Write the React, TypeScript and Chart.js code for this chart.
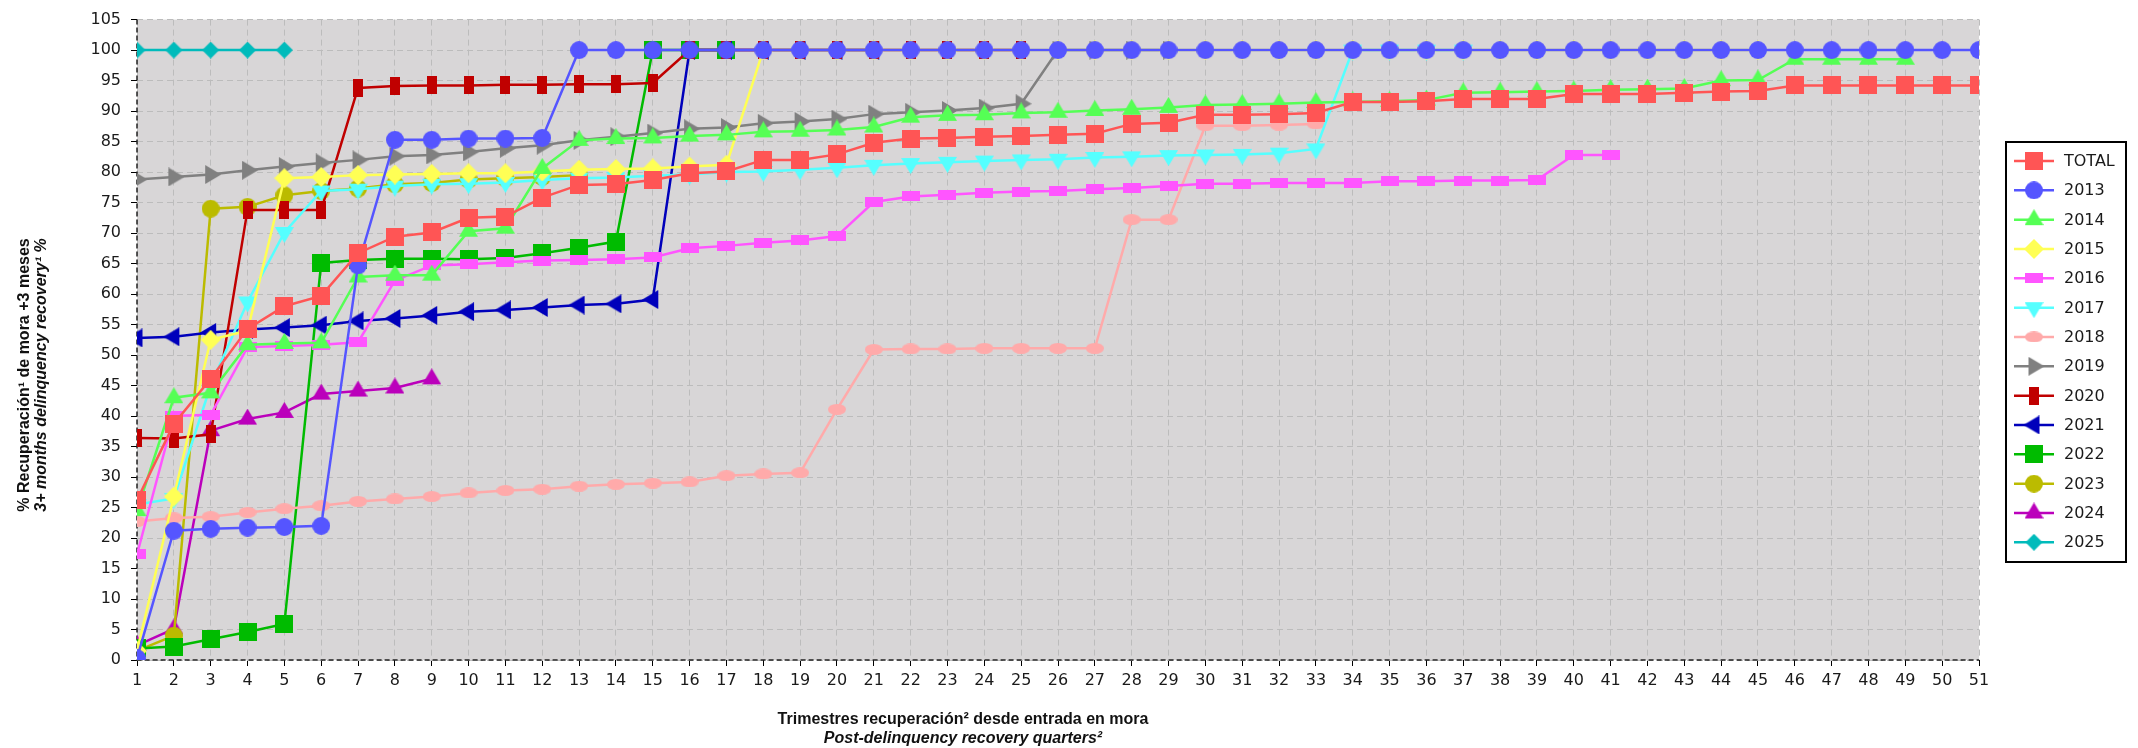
import React, { useEffect, useRef } from 'react';
import { Chart, registerables } from 'chart.js';

Chart.register(...registerables);

// ---------------- DATA ----------------
const quarterLabels = [
  '1', '2', '3', '4', '5', '6', '7', '8', '9', '10',
  '11', '12', '13', '14', '15', '16', '17', '18', '19', '20',
  '21', '22', '23', '24', '25', '26', '27', '28', '29', '30',
  '31', '32', '33', '34', '35', '36', '37', '38', '39', '40',
  '41', '42', '43', '44', '45', '46', '47', '48', '49', '50', '51',
];

const seriesNames = ['TOTAL', '2013', '2014', '2015', '2016', '2017', '2018', '2019', '2020', '2021', '2022', '2023', '2024', '2025'];

const totalData = [
  26.2, 38.7, 46.1, 54.3, 58.0, 59.7, 66.7, 69.4, 70.1, 72.5,
  72.7, 75.8, 77.9, 78.0, 78.7, 79.8, 80.1, 82.0, 82.0, 82.9,
  84.8, 85.5, 85.6, 85.8, 85.9, 86.1, 86.3, 87.9, 88.1, 89.4,
  89.4, 89.5, 89.7, 91.5, 91.5, 91.6, 92.0, 92.0, 92.0, 92.8,
  92.8, 92.8, 93.0, 93.2, 93.3, 94.2, 94.2, 94.2, 94.2, 94.2, 94.2,
];
const data2013 = [
  0.3, 21.2, 21.5, 21.7, 21.8, 22.0, 64.7, 85.3, 85.3, 85.5,
  85.5, 85.6, 100, 100, 100, 100, 100, 100, 100, 100,
  100, 100, 100, 100, 100, 100, 100, 100, 100, 100,
  100, 100, 100, 100, 100, 100, 100, 100, 100, 100,
  100, 100, 100, 100, 100, 100, 100, 100, 100, 100, 100,
];
const data2014 = [
  24.5, 43.0, 43.8, 51.7, 51.9, 52.0, 62.8, 63.1, 63.1, 70.3,
  70.8, 80.6, 85.2, 85.5, 85.6, 85.9, 86.1, 86.6, 86.7, 86.9,
  87.4, 89.0, 89.3, 89.4, 89.7, 89.8, 90.1, 90.3, 90.6, 91.0,
  91.1, 91.2, 91.4, 91.5, 91.6, 91.8, 93.0, 93.1, 93.2, 93.3,
  93.5, 93.6, 93.7, 95.0, 95.1, 98.5, 98.5, 98.5, 98.5,
];
const data2015 = [
  1.5, 26.8, 52.5, 54.0, 79.0, 79.2, 79.5, 79.6, 79.7, 79.8,
  79.8, 80.1, 80.4, 80.5, 80.6, 80.9, 81.2, 100, 100, 100,
  100, 100, 100, 100, 100, 100, 100, 100, 100, 100,
  100, 100, 100, 100, 100, 100, 100, 100, 100, 100,
  100, 100, 100, 100, 100,
];
const data2016 = [
  17.3, 40.0, 40.2, 51.3, 51.5, 51.7, 52.1, 62.2, 64.7, 64.9,
  65.2, 65.5, 65.6, 65.7, 66.0, 67.5, 67.9, 68.4, 68.8, 69.5,
  75.1, 76.0, 76.3, 76.6, 76.8, 76.9, 77.2, 77.4, 77.7, 78.1,
  78.1, 78.2, 78.2, 78.2, 78.5, 78.5, 78.6, 78.6, 78.7, 82.8,
  82.8,
];
const data2017 = [
  25.5, 26.5, 45.0, 58.7, 70.1, 76.9, 77.2, 77.7, 78.0, 78.1,
  78.3, 78.7, 79.0, 79.1, 79.4, 79.6, 80.0, 80.1, 80.4, 80.7,
  81.1, 81.4, 81.6, 81.8, 82.0, 82.1, 82.4, 82.5, 82.7, 82.8,
  82.9, 83.1, 83.8, 100, 100, 100, 100,
];
const data2018 = [
  22.7, 23.3, 23.5, 24.2, 24.8, 25.3, 26.0, 26.4, 26.8, 27.4,
  27.8, 28.0, 28.5, 28.8, 29.0, 29.2, 30.2, 30.5, 30.7, 41.1,
  50.9, 51.0, 51.0, 51.1, 51.1, 51.1, 51.1, 72.2, 72.2, 87.6,
  87.6, 87.7, 87.9,
];
const data2019 = [
  78.8, 79.2, 79.6, 80.3, 80.9, 81.5, 82.0, 82.6, 82.8, 83.3,
  83.9, 84.4, 85.2, 85.8, 86.4, 87.1, 87.3, 88.0, 88.3, 88.7,
  89.5, 89.8, 90.1, 90.5, 91.2, 100, 100, 100, 100,
];
const data2020 = [
  36.4, 36.3, 37.0, 73.8, 73.8, 73.8, 93.8, 94.1, 94.2, 94.2,
  94.3, 94.3, 94.4, 94.4, 94.6, 100, 100, 100, 100, 100,
  100, 100, 100, 100, 100,
];
const data2021 = [
  52.8, 53.0, 53.7, 54.2, 54.5, 54.9, 55.6, 56.0, 56.5, 57.1,
  57.4, 57.8, 58.2, 58.4, 59.1, 100, 100, 100, 100, 100, 100,
];
const data2022 = [
  1.9, 2.2, 3.4, 4.6, 5.9, 65.1, 65.6, 65.8, 65.8, 65.7,
  65.9, 66.7, 67.6, 68.6, 100, 100, 100,
];
const data2023 = [1.5, 4.0, 74.0, 74.3, 76.2, 76.9, 77.3, 78.0, 78.2, 78.8, 79.0, 79.2, 79.5];
const data2024 = [2.4, 5.1, 37.6, 39.5, 40.6, 43.6, 44.1, 44.6, 46.1];
const data2025 = [100, 100, 100, 100, 100];

const seriesData = [totalData, data2013, data2014, data2015, data2016, data2017, data2018, data2019, data2020, data2021, data2022, data2023, data2024, data2025];

const yMin = 0;
const yMax = 105;
const yStep = 5;

const yTitle1 = '% Recuperación¹ de mora +3 meses';
const yTitle2 = '3+ months delinquency recovery¹ %';
const xTitle1 = 'Trimestres recuperación² desde entrada en mora';
const xTitle2 = 'Post-delinquency recovery quarters²';

// ---------------- STYLES ----------------
const seriesColors = ['#ff5555', '#5555ff', '#55ff55', '#ffff55', '#ff55ff', '#55ffff', '#ffaaaa', '#808080', '#c00000', '#0000bb', '#00bb00', '#bbbb00', '#bb00bb', '#00bbbb'];
// [shape, width, height]
const seriesMarkers: [string, number, number][] = [
  ['rect', 18, 18],
  ['circle', 18, 18],
  ['triUp', 19, 16],
  ['diamond', 20, 20],
  ['rect', 18, 10],
  ['triDown', 19, 16],
  ['circle', 18, 11],
  ['triRight', 16, 19],
  ['rect', 10, 18],
  ['triLeft', 16, 19],
  ['rect', 18, 18],
  ['circle', 18, 18],
  ['triUp', 19, 16],
  ['diamond', 17, 17],
];

const W = 2138;
const H = 748;
const AREA = { left: 137, right: 1979, top: 13, bottom: 660 };
const PLOT_BG = '#d8d6d7';

function makeMarker(shape: string, w: number, h: number, color: string): HTMLCanvasElement {
  let cw = w;
  let ch = h;
  if (shape === 'triUp' || shape === 'triDown') ch = Math.round((h * 4) / 3);
  if (shape === 'triRight' || shape === 'triLeft') cw = Math.round((w * 4) / 3);
  const c = document.createElement('canvas');
  c.width = cw;
  c.height = ch;
  const ctx = c.getContext('2d')!;
  ctx.fillStyle = color;
  ctx.beginPath();
  switch (shape) {
    case 'rect':
      ctx.rect(0, 0, w, h);
      break;
    case 'circle':
      ctx.ellipse(w / 2, h / 2, w / 2, h / 2, 0, 0, Math.PI * 2);
      break;
    case 'diamond':
      ctx.moveTo(w / 2, 0);
      ctx.lineTo(w, h / 2);
      ctx.lineTo(w / 2, h);
      ctx.lineTo(0, h / 2);
      break;
    case 'triUp':
      ctx.moveTo(w / 2, 0);
      ctx.lineTo(w, h);
      ctx.lineTo(0, h);
      break;
    case 'triDown': {
      const b = ch - h;
      ctx.moveTo(0, b);
      ctx.lineTo(w, b);
      ctx.lineTo(w / 2, ch);
      break;
    }
    case 'triRight': {
      const b = cw - w;
      ctx.moveTo(b, 0);
      ctx.lineTo(cw, h / 2);
      ctx.lineTo(b, h);
      break;
    }
    case 'triLeft':
      ctx.moveTo(0, h / 2);
      ctx.lineTo(w, 0);
      ctx.lineTo(w, h);
      break;
  }
  ctx.closePath();
  ctx.fill();
  return c;
}

export default function App() {
  const canvasRef = useRef<HTMLCanvasElement | null>(null);

  useEffect(() => {
    document.body.style.margin = '0';
    const canvas = canvasRef.current;
    if (!canvas) return;

    const markers = seriesMarkers.map(([s, w, h], i) => makeMarker(s, w, h, seriesColors[i]));

    const bgPlugin = {
      id: 'plotBg',
      beforeDraw(chart: any) {
        const { ctx, chartArea: a } = chart;
        ctx.save();
        ctx.fillStyle = PLOT_BG;
        ctx.fillRect(a.left, a.top, a.right - a.left, a.bottom - a.top);
        ctx.restore();
      },
    };

    const axisPlugin = {
      id: 'axisLines',
      beforeDatasetsDraw(chart: any) {
        const { ctx, chartArea: a } = chart;
        ctx.save();
        ctx.strokeStyle = '#222';
        ctx.lineWidth = 1.5;
        ctx.setLineDash([5, 3]);
        ctx.beginPath();
        ctx.moveTo(a.left, a.top);
        ctx.lineTo(a.left, a.bottom);
        ctx.lineTo(a.right, a.bottom);
        ctx.stroke();
        ctx.restore();
      },
    };

    const titlePlugin = {
      id: 'axisTitles',
      afterDraw(chart: any) {
        const { ctx } = chart;
        ctx.save();
        ctx.fillStyle = '#111';
        ctx.textAlign = 'center';
        ctx.textBaseline = 'middle';
        ctx.font = 'bold 16px "Liberation Sans", Arial, sans-serif';
        ctx.fillText(xTitle1, 963, 720);
        ctx.font = 'italic bold 16px "Liberation Sans", Arial, sans-serif';
        ctx.fillText(xTitle2, 963, 739);
        ctx.translate(0, 375);
        ctx.rotate(-Math.PI / 2);
        ctx.font = 'bold 16px "Liberation Sans", Arial, sans-serif';
        ctx.fillText(yTitle1, 0, 25);
        ctx.font = 'italic bold 16px "Liberation Sans", Arial, sans-serif';
        ctx.fillText(yTitle2, 0, 42);
        ctx.restore();
      },
    };

    const legendPlugin = {
      id: 'customLegend',
      afterDraw(chart: any) {
        const { ctx } = chart;
        const bx = 2006;
        const by = 142;
        const bw = 120;
        const bh = 420;
        ctx.save();
        ctx.fillStyle = '#fff';
        ctx.fillRect(bx, by, bw, bh);
        ctx.strokeStyle = '#000';
        ctx.lineWidth = 2;
        ctx.setLineDash([]);
        ctx.strokeRect(bx, by, bw, bh);
        const step = 29.33;
        seriesNames.forEach((name, i) => {
          const y = 161 + i * step;
          ctx.strokeStyle = seriesColors[i];
          ctx.lineWidth = 2.5;
          ctx.beginPath();
          ctx.moveTo(2014, y);
          ctx.lineTo(2054, y);
          ctx.stroke();
          const m = markers[i];
          ctx.drawImage(m, 2034 - m.width / 2, y - m.height / 2);
          ctx.fillStyle = '#1a1a1a';
          ctx.font = '16px "DejaVu Sans", sans-serif';
          ctx.textAlign = 'left';
          ctx.textBaseline = 'middle';
          ctx.fillText(name, 2064, y + 1);
        });
        ctx.restore();
      },
    };

    const tickFont = { family: '"DejaVu Sans", sans-serif', size: 16 };

    const chart = new Chart(canvas, {
      type: 'line',
      data: {
        labels: quarterLabels,
        datasets: seriesNames.map((name, i) => ({
          label: name,
          data: seriesData[i],
          borderColor: seriesColors[i],
          backgroundColor: seriesColors[i],
          borderWidth: 2.5,
          pointStyle: markers[i] as any,
          pointRadius: 9,
          pointHoverRadius: 9,
          tension: 0,
          fill: false,
          clip: 0,
        })),
      },
      options: {
        animation: false,
        responsive: false,
        maintainAspectRatio: false,
        events: [],
        layout: {
          padding: { left: 0, top: AREA.top, right: W - AREA.right, bottom: 0 },
        },
        plugins: {
          legend: { display: false },
          tooltip: { enabled: false },
        },
        scales: {
          x: {
            type: 'category',
            offset: false,
            grid: {
              color: '#bcbcbc',
              lineWidth: 1,
              drawTicks: true,
              tickLength: 6,
              tickColor: '#000',
              tickWidth: 1,
            },
            border: { display: false, dash: [6, 4] },
            ticks: {
              font: tickFont,
              color: '#1a1a1a',
              padding: 5,
              autoSkip: false,
              maxRotation: 0,
              minRotation: 0,
            },
            afterFit(scale: any) {
              scale.height = H - AREA.bottom;
            },
          },
          y: {
            type: 'linear',
            min: yMin,
            max: yMax,
            grid: {
              color: '#bcbcbc',
              lineWidth: 1,
              drawTicks: true,
              tickLength: 6,
              tickColor: '#000',
              tickWidth: 1,
            },
            border: { display: false, dash: [6, 4] },
            ticks: {
              stepSize: yStep,
              font: tickFont,
              color: '#1a1a1a',
              padding: 10,
              autoSkip: false,
            },
            afterFit(scale: any) {
              scale.width = AREA.left;
            },
          },
        },
      },
      plugins: [bgPlugin, axisPlugin, titlePlugin, legendPlugin],
    });

    return () => {
      chart.destroy();
    };
  }, []);

  return (
    <div style={{ width: W, height: H, position: 'relative', background: '#fff' }}>
      <canvas ref={canvasRef} width={W} height={H} style={{ width: W, height: H, display: 'block' }} />
    </div>
  );
}
